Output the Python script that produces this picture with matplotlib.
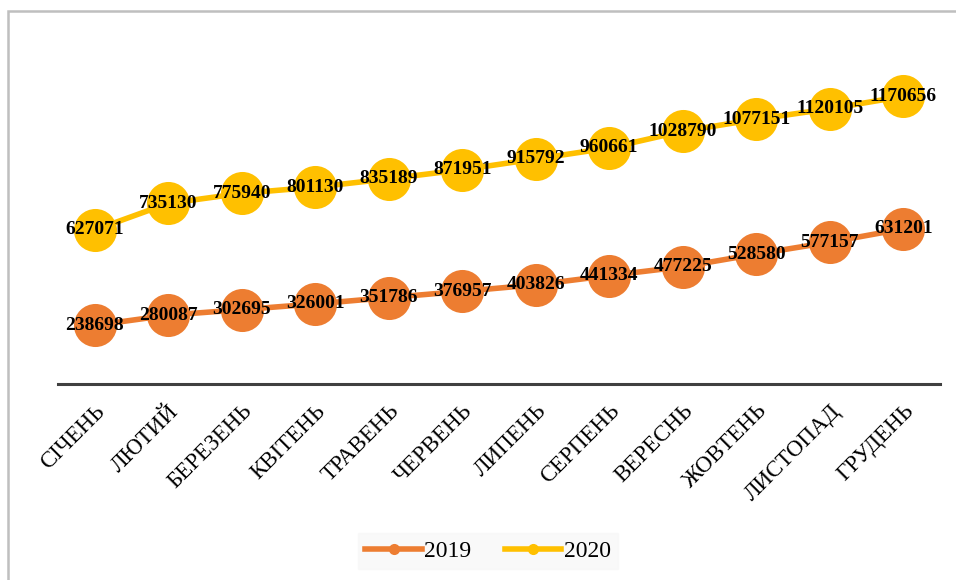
import matplotlib
matplotlib.use("Agg")
import matplotlib.pyplot as plt
from matplotlib.patches import Rectangle
from matplotlib.lines import Line2D

months = ["СІЧЕНЬ", "ЛЮТИЙ", "БЕРЕЗЕНЬ", "КВІТЕНЬ", "ТРАВЕНЬ", "ЧЕРВЕНЬ",
          "ЛИПЕНЬ", "СЕРПЕНЬ", "ВЕРЕСНЬ", "ЖОВТЕНЬ", "ЛИСТОПАД", "ГРУДЕНЬ"]
v2019 = [238698, 280087, 302695, 326001, 351786, 376957,
         403826, 441334, 477225, 528580, 577157, 631201]
v2020 = [627071, 735130, 775940, 801130, 835189, 871951,
         915792, 960661, 1028790, 1077151, 1120105, 1170656]

plt.rcParams["font.family"] = ["Liberation Serif", "DejaVu Serif"]

W, H = 956, 580
fig = plt.figure(figsize=(W / 100, H / 100), dpi=100)

# outer chart frame (left and top edges visible)
fig.patches.append(Rectangle((8 / W, -0.1), 1.2, (H - 11) / H + 0.1,
                             transform=fig.transFigure, fill=False,
                             edgecolor="#BFBFBF", lw=1.8))

ax = fig.add_axes([58 / W, (H - 384) / H, (940 - 58) / W, (384 - 40) / H])
x = list(range(len(months)))

series = [("2019", v2019, "#ED7D31"), ("2020", v2020, "#FFC000")]
for name, vals, col in series:
    ax.plot(x, vals, color=col, lw=4, marker="o", markersize=31,
            markeredgewidth=0, label=name, solid_capstyle="round")
    for xi, v in zip(x, vals):
        ax.text(xi, v, f"{v}", ha="center", va="center", fontsize=14,
                fontweight="bold", color="black")

ax.set_xlim(-0.5, 11.5)
ax.set_ylim(0, 1400000)
ax.set_yticks([])
for s in ["top", "right", "left"]:
    ax.spines[s].set_visible(False)
ax.spines["bottom"].set_color("#404040")
ax.spines["bottom"].set_linewidth(2.2)
ax.tick_params(axis="x", length=0, pad=12)
ax.set_xticks(x)
ax.set_xticklabels(months, rotation=45, ha="right", va="top",
                   rotation_mode="anchor", fontsize=16.5)

# legend handles with small markers
handles = [Line2D([], [], color=c, lw=4, marker="o", markersize=8,
                  markeredgewidth=0) for _, _, c in series]
leg = fig.legend(handles, [n for n, _, _ in series], loc="center",
                 bbox_to_anchor=(488 / W, (H - 551) / H), ncol=2,
                 fontsize=17, frameon=True, fancybox=False,
                 handlelength=2.4, handletextpad=0.1, columnspacing=1.4,
                 borderpad=0.4, borderaxespad=0, handleheight=0.7)
leg.get_frame().set_facecolor("#F8F8F8")
leg.get_frame().set_edgecolor("#F8F8F8")
leg._legend_box.pad = 5

fig.savefig("out.png", dpi=100)
